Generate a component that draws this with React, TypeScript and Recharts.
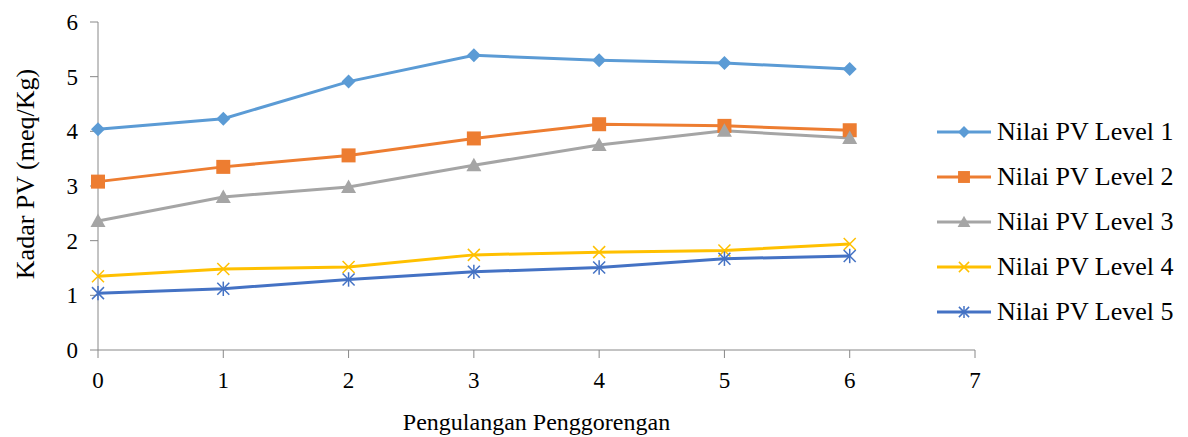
import React from 'react'
import { LineChart, Line, XAxis, YAxis, Legend } from 'recharts'

const rounds = [0, 1, 2, 3, 4, 5, 6]
const level1 = [4.04, 4.23, 4.91, 5.39, 5.3, 5.25, 5.14]
const level2 = [3.08, 3.35, 3.56, 3.87, 4.13, 4.1, 4.02]
const level3 = [2.36, 2.8, 2.98, 3.38, 3.75, 4.01, 3.88]
const level4 = [1.35, 1.48, 1.52, 1.74, 1.79, 1.82, 1.94]
const level5 = [1.04, 1.12, 1.29, 1.43, 1.51, 1.67, 1.72]
const xTicks = [0, 1, 2, 3, 4, 5, 6, 7]
const yTicks = [0, 1, 2, 3, 4, 5, 6]

const data = rounds.map((r, i) => ({
  x: r,
  l1: level1[i],
  l2: level2[i],
  l3: level3[i],
  l4: level4[i],
  l5: level5[i],
}))

const FONT = '"Liberation Serif", "Times New Roman", serif'

type Shape = 'diamond' | 'square' | 'triangle' | 'x' | 'star'

function Marker({ cx, cy, shape, color, s = 1 }: { cx: number; cy: number; shape: Shape; color: string; s?: number }) {
  if (shape === 'diamond') {
    const r = 7 * s
    return <polygon points={`${cx},${cy - r} ${cx + r},${cy} ${cx},${cy + r} ${cx - r},${cy}`} fill={color} />
  }
  if (shape === 'square') {
    const r = 7 * s
    return <rect x={cx - r} y={cy - r} width={r * 2} height={r * 2} fill={color} />
  }
  if (shape === 'triangle') {
    const r = 7.5 * s
    return <polygon points={`${cx},${cy - r} ${cx + r},${cy + r * 0.8} ${cx - r},${cy + r * 0.8}`} fill={color} />
  }
  if (shape === 'x') {
    const r = 6 * s
    return (
      <g stroke={color} strokeWidth={1.5}>
        <line x1={cx - r} y1={cy - r} x2={cx + r} y2={cy + r} />
        <line x1={cx - r} y1={cy + r} x2={cx + r} y2={cy - r} />
      </g>
    )
  }
  const r = 6 * s
  return (
    <g stroke={color} strokeWidth={1.5}>
      <line x1={cx - r} y1={cy - r} x2={cx + r} y2={cy + r} />
      <line x1={cx - r} y1={cy + r} x2={cx + r} y2={cy - r} />
      <line x1={cx} y1={cy - r * 1.2} x2={cx} y2={cy + r * 1.2} />
    </g>
  )
}

const series: { key: string; name: string; color: string; shape: Shape }[] = [
  { key: 'l1', name: 'Nilai PV Level 1', color: '#5B9BD5', shape: 'diamond' },
  { key: 'l2', name: 'Nilai PV Level 2', color: '#ED7D31', shape: 'square' },
  { key: 'l3', name: 'Nilai PV Level 3', color: '#A5A5A5', shape: 'triangle' },
  { key: 'l4', name: 'Nilai PV Level 4', color: '#FFC000', shape: 'x' },
  { key: 'l5', name: 'Nilai PV Level 5', color: '#4472C4', shape: 'star' },
]

function LegendBox() {
  return (
    <div style={{ fontFamily: FONT, fontSize: 26, color: '#000' }}>
      {series.map((s) => (
        <div key={s.key} style={{ display: 'flex', alignItems: 'center', height: 45 }}>
          <svg width={58} height={20} style={{ marginRight: 4 }}>
            <line x1={2} y1={10} x2={56} y2={10} stroke={s.color} strokeWidth={3} />
            <Marker cx={29} cy={10} shape={s.shape} color={s.color} s={0.85} />
          </svg>
          <span>{s.name}</span>
        </div>
      ))}
    </div>
  )
}

export default function App() {
  return (
    <div style={{ position: 'absolute', left: 0, top: 0, background: '#fff' }}>
      <LineChart width={1188} height={437} data={data} margin={{ top: 22, right: 213, bottom: 37, left: 38 }}>
        <XAxis
          dataKey="x"
          type="number"
          domain={[0, 7]}
          ticks={xTicks}
          interval={0}
          stroke="#888"
          tickLine={{ stroke: '#888' }}
          tickSize={8}
          tickMargin={14}
          tick={{ fill: '#000', fontSize: 23, fontFamily: FONT }}
          height={50}
          label={(p: any) => (
            <text
              x={p.viewBox.x + p.viewBox.width / 2}
              y={p.viewBox.y + 80}
              textAnchor="middle"
              fontFamily={FONT}
              fontSize={24}
              fill="#000"
            >
              Pengulangan Penggorengan
            </text>
          )}
        />
        <YAxis
          type="number"
          domain={[0, 6]}
          ticks={yTicks}
          interval={0}
          width={60}
          stroke="#888"
          tickLine={{ stroke: '#888' }}
          tickSize={8}
          tickMargin={12}
          tick={{ fill: '#000', fontSize: 23, fontFamily: FONT }}
          label={() => (
            <text
              x={25}
              y={174}
              transform="rotate(-90 25 174)"
              textAnchor="middle"
              dominantBaseline="central"
              fontFamily={FONT}
              fontSize={26}
              fill="#000"
            >
              Kadar PV (meq/Kg)
            </text>
          )}
        />
        <Legend
          layout="vertical"
          align="center"
          verticalAlign="middle"
          content={() => <LegendBox />}
          wrapperStyle={{ left: 935, top: 109, width: 253 }}
        />
        {series.map((s) => (
          <Line
            key={s.key}
            type="linear"
            dataKey={s.key}
            name={s.name}
            stroke={s.color}
            strokeWidth={3}
            isAnimationActive={false}
            dot={(p: any) => (
              <Marker key={`${s.key}-${p.index}`} cx={p.cx} cy={p.cy} shape={s.shape} color={s.color} />
            )}
            activeDot={false}
          />
        ))}
      </LineChart>
    </div>
  )
}
